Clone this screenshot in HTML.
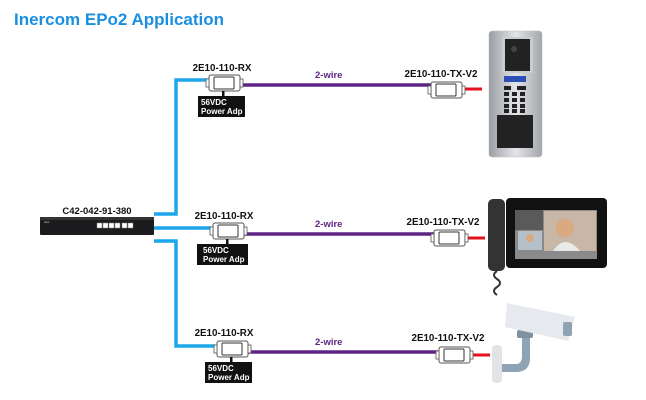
<!DOCTYPE html>
<html><head><meta charset="utf-8"><style>
html,body{margin:0;padding:0;background:#fff;}
svg{display:block;font-family:"Liberation Sans",Arial,sans-serif;}
</style></head><body>
<svg width="646" height="400" viewBox="0 0 646 400" xmlns="http://www.w3.org/2000/svg">
<defs>
<linearGradient id="steel" x1="0" x2="1" y1="0" y2="0">
<stop offset="0" stop-color="#9a9da2"/><stop offset="0.5" stop-color="#e3e5e8"/><stop offset="1" stop-color="#a3a6ab"/>
</linearGradient>
<g id="box">
<rect x="0" y="0" width="31" height="16" rx="2" fill="#fff" stroke="#555" stroke-width="1"/>
<rect x="5" y="2" width="20" height="12" rx="1" fill="#fff" stroke="#333" stroke-width="1"/>
<rect x="-3" y="4" width="3" height="8" fill="#fff" stroke="#555" stroke-width="0.8"/>
<rect x="31" y="4" width="3" height="8" fill="#fff" stroke="#555" stroke-width="0.8"/>
</g>
</defs>
<text x="14" y="25" font-size="17" font-weight="bold" fill="#1a8fe0">Inercom EPo2 Application</text>

<!-- switch -->
<text x="97" y="214" font-size="9.5" font-weight="bold" text-anchor="middle" fill="#111">C42-042-91-380</text>
<rect x="40" y="217" width="114" height="18" rx="1" fill="#1c1c1e"/>
<rect x="40" y="217" width="114" height="3" fill="#333"/>
<g fill="#fff" stroke="#888" stroke-width="0.5">
<rect x="97" y="223" width="5" height="5"/><rect x="103" y="223" width="5" height="5"/><rect x="109" y="223" width="5" height="5"/><rect x="115" y="223" width="5" height="5"/><rect x="122" y="223" width="5" height="5"/><rect x="128" y="223" width="5" height="5"/>
</g>
<text x="44" y="223" font-size="3" fill="#ccc">asix</text>

<!-- blue lines -->
<g fill="none" stroke="#1ea6ea" stroke-width="3.5">
<polyline points="154,214 176,214 176,80 208,80"/>
<line x1="154" y1="228" x2="211" y2="228"/>
<polyline points="154,241 176,241 176,346 215,346"/>
</g>

<!-- purple lines -->
<g stroke="#5e2485" stroke-width="3.5">
<line x1="240" y1="85" x2="431" y2="85"/>
<line x1="244" y1="234" x2="434" y2="234"/>
<line x1="248" y1="352" x2="438" y2="352"/>
</g>
<g font-size="9.5" font-weight="bold" fill="#5e2485">
<text x="315" y="78">2-wire</text>
<text x="315" y="227">2-wire</text>
<text x="315" y="345">2-wire</text>
</g>

<!-- red lines -->
<g stroke="#e4101d" stroke-width="3">
<line x1="461" y1="89" x2="482" y2="89"/>
<line x1="463" y1="238" x2="485" y2="238"/>
<line x1="468" y1="355" x2="490" y2="355"/>
</g>

<!-- RX -->
<g font-size="9.8" font-weight="bold" fill="#111">
<text x="222" y="71" text-anchor="middle">2E10-110-RX</text>
<text x="224" y="219" text-anchor="middle">2E10-110-RX</text>
<text x="224" y="336" text-anchor="middle">2E10-110-RX</text>
</g>
<use href="#box" x="209" y="75"/>
<use href="#box" x="213" y="223"/>
<use href="#box" x="217" y="341"/>
<rect x="222" y="91" width="2.5" height="5" fill="#111"/>
<rect x="226" y="239" width="2.5" height="5" fill="#111"/>
<rect x="230" y="357" width="2.5" height="5" fill="#111"/>
<rect x="198" y="96" width="47" height="21" fill="#111"/>
<rect x="197" y="244" width="51" height="21" fill="#111"/>
<rect x="205" y="362" width="47" height="21" fill="#111"/>
<g font-size="8" font-weight="bold" fill="#fff">
<text x="201" y="105">56VDC</text><text x="201" y="114">Power Adp</text>
<text x="203" y="253">56VDC</text><text x="203" y="262">Power Adp</text>
<text x="208" y="371">56VDC</text><text x="208" y="380">Power Adp</text>
</g>

<!-- TX -->
<g font-size="9.8" font-weight="bold" fill="#111">
<text x="441" y="77" text-anchor="middle">2E10-110-TX-V2</text>
<text x="443" y="225" text-anchor="middle">2E10-110-TX-V2</text>
<text x="448" y="341" text-anchor="middle">2E10-110-TX-V2</text>
</g>
<use href="#box" x="431" y="82"/>
<use href="#box" x="434" y="230"/>
<use href="#box" x="439" y="347"/>

<!-- intercom panel -->
<rect x="489" y="31" width="53" height="126" rx="3" fill="url(#steel)" stroke="#bbb" stroke-width="0.5"/>
<rect x="502" y="37" width="31" height="36" fill="#c9ccd0"/>
<rect x="505" y="39" width="25" height="32" fill="#222"/>
<circle cx="514" cy="49" r="3" fill="#444"/>
<rect x="504" y="76" width="22" height="6" fill="#2d4fb5"/>
<g fill="#222">
<rect x="504" y="86" width="7" height="4"/><rect x="517" y="86" width="9" height="4"/>
<rect x="504" y="92" width="5" height="4"/><rect x="512" y="92" width="5" height="4"/><rect x="520" y="92" width="5" height="4"/>
<rect x="504" y="98" width="5" height="4"/><rect x="512" y="98" width="5" height="4"/><rect x="520" y="98" width="5" height="4"/>
<rect x="504" y="104" width="5" height="4"/><rect x="512" y="104" width="5" height="4"/><rect x="520" y="104" width="5" height="4"/>
<rect x="504" y="109" width="5" height="4"/><rect x="512" y="109" width="5" height="4"/><rect x="520" y="109" width="5" height="4"/>
<rect x="497" y="115" width="36" height="33"/>
</g>

<!-- videophone -->
<rect x="488" y="199" width="17" height="72" rx="5" fill="#333"/>
<rect x="506" y="198" width="101" height="70" rx="4" fill="#111"/>
<rect x="515" y="210" width="82" height="49" fill="#8a8a8a"/>
<rect x="544" y="211" width="52" height="40" fill="#c8b6a6"/>
<circle cx="565" cy="228" r="9" fill="#d9a980"/>
<path d="M553 251 Q565 233 580 251 Z" fill="#e9e9e9"/>
<rect x="518" y="231" width="24" height="19" fill="#b5c0c8"/>
<circle cx="530" cy="238" r="4" fill="#d9a980"/>
<rect x="515" y="210" width="28" height="20" fill="#5a5a5a"/>
<path d="M497 271 q-6 4 0 8 q6 4 0 8 q-6 4 0 8" fill="none" stroke="#333" stroke-width="2"/>

<!-- camera -->
<rect x="492" y="345" width="10" height="38" rx="4" fill="#e2e3e6"/>
<path d="M502 364 L516 364 Q522 364 522 356 L522 336 L530 336 L530 358 Q530 372 516 372 L502 372 Z" fill="#8ea3b3"/>
<rect x="517" y="330" width="16" height="8" rx="2" fill="#7f92a0"/>
<rect x="522" y="323" width="7" height="8" fill="#d8b85a"/>
<path d="M507 303 L575 317 L568 341 L505 327 Z" fill="#e6e9ed"/>
<rect x="563" y="322" width="9" height="14" rx="2" fill="#8ea3b3"/>
</svg>
</body></html>
